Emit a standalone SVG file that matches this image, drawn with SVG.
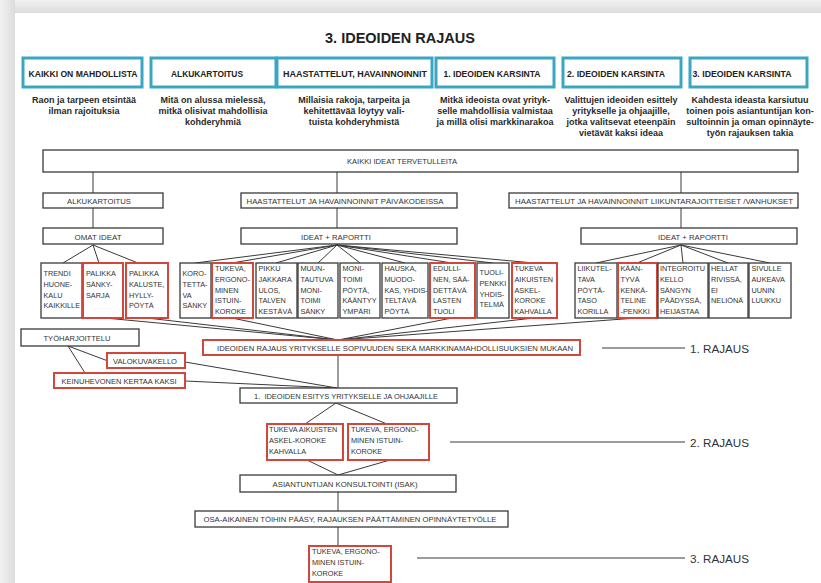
<svg xmlns="http://www.w3.org/2000/svg" width="821" height="583" viewBox="0 0 821 583">
<defs>
<linearGradient id="gt" x1="0" y1="0" x2="0" y2="1"><stop offset="0" stop-color="#f2f2f2"/><stop offset="1" stop-color="#dcdcdc"/></linearGradient>
<linearGradient id="gl" x1="0" y1="0" x2="1" y2="0"><stop offset="0" stop-color="#f2f2f2"/><stop offset="1" stop-color="#dcdcdc"/></linearGradient>
</defs>
<style>
.hb{fill:#fff;stroke:#3ba6c3;stroke-width:3}
.ht{font-family:"Liberation Sans",Arial,sans-serif;font-weight:bold;font-size:9px;fill:#222;text-anchor:middle}
.ds{font-family:"Liberation Sans",Arial,sans-serif;font-weight:bold;font-size:9px;fill:#2a2a2a;text-anchor:middle}
.bx{fill:#fff;stroke:#3a3a3a;stroke-width:1.3}
.rb{fill:#fff;stroke:#d2463b;stroke-width:2}
.lb{font-family:"Liberation Sans",Arial,sans-serif;font-size:7.6px;fill:#333;text-anchor:middle}
.it{font-family:"Liberation Sans",Arial,sans-serif;font-size:7.3px;fill:#333}
.cn{stroke:#3a3a3a;stroke-width:1;fill:none}
.rj{font-family:"Liberation Sans",Arial,sans-serif;font-size:11.7px;fill:#333}
.title{font-family:"Liberation Sans",Arial,sans-serif;font-weight:bold;font-size:15px;fill:#222;text-anchor:middle}
</style>
<rect x="0" y="0" width="821" height="583" fill="#e4e4e4"/>
<rect x="0" y="0" width="821" height="13" fill="url(#gt)"/>
<rect x="0" y="0" width="15" height="583" fill="url(#gl)"/>
<rect x="15" y="13" width="806" height="570" fill="#fff"/>

<text class="title" x="400" y="43" textLength="150" lengthAdjust="spacingAndGlyphs">3. IDEOIDEN RAJAUS</text>

<g id="h1"><rect class="hb" x="23" y="58" width="119" height="29"/><text class="ht" x="83" y="77" textLength="109" lengthAdjust="spacingAndGlyphs">KAIKKI ON MAHDOLLISTA</text>
<text class="ds" x="84" y="103">Raon ja tarpeen etsintää</text><text class="ds" x="84" y="114">ilman rajoituksia</text></g>
<g id="h2"><rect class="hb" x="151" y="58" width="125" height="29"/><text class="ht" x="207" y="77" textLength="72" lengthAdjust="spacingAndGlyphs">ALKUKARTOITUS</text>
<text class="ds" x="213" y="103">Mitä on alussa mielessä,</text><text class="ds" x="213" y="114">mitkä olisivat mahdollisia</text><text class="ds" x="213" y="125">kohderyhmiä</text></g>
<g id="h3"><rect class="hb" x="277" y="58" width="155" height="29"/><text class="ht" x="355" y="77" textLength="144" lengthAdjust="spacingAndGlyphs">HAASTATTELUT, HAVAINNOINNIT</text>
<text class="ds" x="354" y="103">Millaisia rakoja, tarpeita ja</text><text class="ds" x="354" y="114">kehitettävää löytyy vali-</text><text class="ds" x="354" y="125">tuista kohderyhmistä</text></g>
<g id="h4"><rect class="hb" x="436" y="58" width="118" height="29"/><text class="ht" x="492" y="77" textLength="97" lengthAdjust="spacingAndGlyphs">1. IDEOIDEN KARSINTA</text>
<text class="ds" x="495" y="103">Mitkä ideoista ovat yrityk-</text><text class="ds" x="495" y="114">selle mahdollisia valmistaa</text><text class="ds" x="495" y="125">ja millä olisi markkinarakoa</text></g>
<g id="h5"><rect class="hb" x="563" y="58" width="118" height="29"/><text class="ht" x="616" y="77" textLength="98" lengthAdjust="spacingAndGlyphs">2. IDEOIDEN KARSINTA</text>
<text class="ds" x="621" y="103">Valittujen ideoiden esittely</text><text class="ds" x="621" y="114">yritykselle ja ohjaajille,</text><text class="ds" x="621" y="125">jotka valitsevat eteenpäin</text><text class="ds" x="621" y="136">vietävät kaksi ideaa</text></g>
<g id="h6"><rect class="hb" x="690" y="58" width="117" height="29"/><text class="ht" x="742" y="77" textLength="99" lengthAdjust="spacingAndGlyphs">3. IDEOIDEN KARSINTA</text>
<text class="ds" x="750" y="103">Kahdesta ideasta karsiutuu</text><text class="ds" x="750" y="114">toinen pois asiantuntijan kon-</text><text class="ds" x="750" y="125">sultoinnin ja oman opinnäyte-</text><text class="ds" x="750" y="136">työn rajauksen takia</text></g>

<g id="connectors">
<line class="cn" x1="93" y1="172" x2="93" y2="193"/>
<line class="cn" x1="93" y1="208" x2="93" y2="228"/>
<line class="cn" x1="337" y1="172" x2="337" y2="193"/>
<line class="cn" x1="337" y1="208" x2="337" y2="228"/>
<line class="cn" x1="681" y1="172" x2="681" y2="193"/>
<line class="cn" x1="681" y1="208" x2="681" y2="228"/>
<path class="cn" d="M93,245L63,263M93,245L99,263M93,245L138,263"/>
<path class="cn" d="M337,245L195,263M337,245L232,263M337,245L276,263M337,245L318,263M337,245L360,263M337,245L405,263M337,245L452,263M337,245L493,263M337,245L534,263"/>
<path class="cn" d="M681,245L596,263M681,245L637,263M681,245L683,263M681,245L728,263M681,245L770,263"/>
<path class="cn" d="M105,318L338,340M147,318L338,340M232,318L338,340M452,318L338,340M534,318L338,340M637,318L338,340"/>
<line class="cn" x1="338" y1="355" x2="338" y2="388"/>
<path class="cn" d="M68,346L108,361M68,346L85,373"/>
<path class="cn" d="M185,362L337,388M185,381L337,388"/>
<path class="cn" d="M336,403L305,424M336,403L387,424"/>
<path class="cn" d="M307,460L338,475M390,460L338,475"/>
<line class="cn" x1="338" y1="492" x2="338" y2="511"/>
<line class="cn" x1="338" y1="527" x2="338" y2="546"/>
<line class="cn" x1="602" y1="348" x2="685" y2="348"/>
<line class="cn" x1="450" y1="442" x2="685" y2="442"/>
<line class="cn" x1="417" y1="558" x2="685" y2="558"/>
</g>

<g id="n-kaikki"><rect class="bx" x="43" y="150" width="755" height="22"/><text class="lb" x="402" y="164" textLength="110" lengthAdjust="spacingAndGlyphs">KAIKKI IDEAT TERVETULLEITA</text></g>
<g id="n-alku"><rect class="bx" x="43" y="193" width="120" height="15"/><text class="lb" x="99" y="203.5" textLength="64" lengthAdjust="spacingAndGlyphs">ALKUKARTOITUS</text></g>
<g id="n-omat"><rect class="bx" x="43" y="228" width="120" height="16"/><text class="lb" x="98" y="239.5" textLength="47" lengthAdjust="spacingAndGlyphs">OMAT IDEAT</text></g>
<g id="n-paiva"><rect class="bx" x="241" y="193" width="216" height="15"/><text class="lb" x="345" y="203.5" textLength="197" lengthAdjust="spacingAndGlyphs">HAASTATTELUT JA HAVAINNOINNIT PÄIVÄKODEISSA</text></g>
<g id="n-ideat1"><rect class="bx" x="241" y="228" width="216" height="16"/><text class="lb" x="336" y="239.5" textLength="70" lengthAdjust="spacingAndGlyphs">IDEAT + RAPORTTI</text></g>
<g id="n-liik"><rect class="bx" x="509" y="193" width="289" height="15"/><text class="lb" x="654" y="203.5" textLength="278" lengthAdjust="spacingAndGlyphs">HAASTATTELUT JA HAVAINNOINNIT LIIKUNTARAJOITTEISET /VANHUKSET</text></g>
<g id="n-ideat2"><rect class="bx" x="581" y="228" width="216" height="16"/><text class="lb" x="693" y="239.5" textLength="70" lengthAdjust="spacingAndGlyphs">IDEAT + RAPORTTI</text></g>

<g id="i1"><rect class="bx" x="41" y="263" width="41" height="55"/><text class="it" x="43.5" y="276"><tspan x="43.5">TRENDI</tspan><tspan x="43.5" dy="10.8">HUONE-</tspan><tspan x="43.5" dy="10.8">KALU</tspan><tspan x="43.5" dy="10.8">KAIKKILLE</tspan></text></g>
<g id="i2"><rect class="rb" x="83" y="263" width="40" height="55"/><text class="it" x="86" y="276"><tspan x="86">PALIKKA</tspan><tspan x="86" dy="10.8">SÄNKY-</tspan><tspan x="86" dy="10.8">SARJA</tspan></text></g>
<g id="i3"><rect class="rb" x="126" y="263" width="42" height="55"/><text class="it" x="129" y="276"><tspan x="129">PALIKKA</tspan><tspan x="129" dy="10.8">KALUSTE,</tspan><tspan x="129" dy="10.8">HYLLY-</tspan><tspan x="129" dy="10.8">PÖYTÄ</tspan></text></g>
<g id="i4"><rect class="bx" x="180" y="263" width="31" height="55"/><text class="it" x="182.5" y="276"><tspan x="182.5">KORO-</tspan><tspan x="182.5" dy="10.8">TETTA-</tspan><tspan x="182.5" dy="10.8">VA</tspan><tspan x="182.5" dy="10.8">SÄNKY</tspan></text></g>
<g id="i5"><rect class="rb" x="212" y="263" width="41" height="55"/><text class="it" x="215" y="271"><tspan x="215">TUKEVA,</tspan><tspan x="215" dy="10.8">ERGONO-</tspan><tspan x="215" dy="10.8">MINEN</tspan><tspan x="215" dy="10.8">ISTUIN-</tspan><tspan x="215" dy="10.8">KOROKE</tspan></text></g>
<g id="i6"><rect class="bx" x="256" y="263" width="41" height="55"/><text class="it" x="258.5" y="271"><tspan x="258.5">PIKKU</tspan><tspan x="258.5" dy="10.8">JAKKARA</tspan><tspan x="258.5" dy="10.8">ULOS,</tspan><tspan x="258.5" dy="10.8">TALVEN</tspan><tspan x="258.5" dy="10.8">KESTÄVÄ</tspan></text></g>
<g id="i7"><rect class="bx" x="298" y="263" width="40" height="55"/><text class="it" x="300.5" y="271"><tspan x="300.5">MUUN-</tspan><tspan x="300.5" dy="10.8">TAUTUVA</tspan><tspan x="300.5" dy="10.8">MONI-</tspan><tspan x="300.5" dy="10.8">TOIMI</tspan><tspan x="300.5" dy="10.8">SÄNKY</tspan></text></g>
<g id="i8"><rect class="bx" x="340" y="263" width="40" height="55"/><text class="it" x="342.5" y="271"><tspan x="342.5">MONI-</tspan><tspan x="342.5" dy="10.8">TOIMI</tspan><tspan x="342.5" dy="10.8">PÖYTÄ,</tspan><tspan x="342.5" dy="10.8">KÄÄNTYY</tspan><tspan x="342.5" dy="10.8">YMPÄRI</tspan></text></g>
<g id="i9"><rect class="bx" x="382" y="263" width="46" height="55"/><text class="it" x="384.5" y="271"><tspan x="384.5">HAUSKA,</tspan><tspan x="384.5" dy="10.8">MUODO-</tspan><tspan x="384.5" dy="10.8">KAS, YHDIS-</tspan><tspan x="384.5" dy="10.8">TELTÄVÄ</tspan><tspan x="384.5" dy="10.8">PÖYTÄ</tspan></text></g>
<g id="i10"><rect class="rb" x="430" y="263" width="45" height="55"/><text class="it" x="433" y="271"><tspan x="433">EDULLI-</tspan><tspan x="433" dy="10.8">NEN, SÄÄ-</tspan><tspan x="433" dy="10.8">DETTÄVÄ</tspan><tspan x="433" dy="10.8">LASTEN</tspan><tspan x="433" dy="10.8">TUOLI</tspan></text></g>
<g id="i11"><rect class="bx" x="477" y="263" width="32" height="55"/><text class="it" x="479.5" y="275"><tspan x="479.5">TUOLI-</tspan><tspan x="479.5" dy="10.8">PENKKI</tspan><tspan x="479.5" dy="10.8">YHDIS-</tspan><tspan x="479.5" dy="10.8">TELMÄ</tspan></text></g>
<g id="i12"><rect class="rb" x="512" y="263" width="45" height="55"/><text class="it" x="514.5" y="271"><tspan x="514.5">TUKEVA</tspan><tspan x="514.5" dy="10.8">AIKUISTEN</tspan><tspan x="514.5" dy="10.8">ASKEL-</tspan><tspan x="514.5" dy="10.8">KOROKE</tspan><tspan x="514.5" dy="10.8">KAHVALLA</tspan></text></g>
<g id="i13"><rect class="bx" x="575" y="263" width="42" height="55"/><text class="it" x="577.5" y="271"><tspan x="577.5">LIIKUTEL-</tspan><tspan x="577.5" dy="10.8">TAVA</tspan><tspan x="577.5" dy="10.8">PÖYTÄ-</tspan><tspan x="577.5" dy="10.8">TASO</tspan><tspan x="577.5" dy="10.8">KORILLA</tspan></text></g>
<g id="i14"><rect class="rb" x="618" y="263" width="39" height="55"/><text class="it" x="620.5" y="271"><tspan x="620.5">KÄÄN-</tspan><tspan x="620.5" dy="10.8">TYVÄ</tspan><tspan x="620.5" dy="10.8">KENKÄ-</tspan><tspan x="620.5" dy="10.8">TELINE</tspan><tspan x="620.5" dy="10.8">-PENKKI</tspan></text></g>
<g id="i15"><rect class="bx" x="658" y="263" width="50" height="55"/><text class="it" x="660" y="271"><tspan x="660">INTEGROITU</tspan><tspan x="660" dy="10.8">KELLO</tspan><tspan x="660" dy="10.8">SÄNGYN</tspan><tspan x="660" dy="10.8">PÄÄDYSSÄ,</tspan><tspan x="660" dy="10.8">HEIJASTAA</tspan></text></g>
<g id="i16"><rect class="bx" x="709" y="263" width="39" height="55"/><text class="it" x="711" y="271"><tspan x="711">HELLAT</tspan><tspan x="711" dy="10.8">RIVISSÄ,</tspan><tspan x="711" dy="10.8">EI</tspan><tspan x="711" dy="10.8">NELIÖNÄ</tspan></text></g>
<g id="i17"><rect class="bx" x="749" y="263" width="42" height="55"/><text class="it" x="751.5" y="271"><tspan x="751.5">SIVULLE</tspan><tspan x="751.5" dy="10.8">AUKEAVA</tspan><tspan x="751.5" dy="10.8">UUNIN</tspan><tspan x="751.5" dy="10.8">LUUKKU</tspan></text></g>

<g id="n-tyo"><rect class="bx" x="21" y="329" width="118" height="17"/><text class="lb" x="77" y="340.5" textLength="67" lengthAdjust="spacingAndGlyphs">TYÖHARJOITTELU</text></g>
<g id="n-valo"><rect class="rb" x="107" y="353" width="78" height="15"/><text class="lb" x="145" y="363.5" textLength="64" lengthAdjust="spacingAndGlyphs">VALOKUVAKELLO</text></g>
<g id="n-keinu"><rect class="rb" x="54" y="373" width="131" height="15"/><text class="lb" x="119" y="383.5" textLength="115" lengthAdjust="spacingAndGlyphs">KEINUHEVONEN KERTAA  KAKSI</text></g>
<g id="n-rajaus"><rect class="rb" x="203" y="340" width="377" height="15"/><text class="lb" x="395" y="350.5" textLength="356" lengthAdjust="spacingAndGlyphs">IDEOIDEN RAJAUS YRITYKSELLE SOPIVUUDEN SEKÄ MARKKINAMAHDOLLISUUKSIEN MUKAAN</text></g>
<g id="n-esitys"><rect class="bx" x="240" y="388" width="217" height="15"/><text class="lb" x="346" y="398.5" textLength="184" lengthAdjust="spacingAndGlyphs">1.&#160; IDEOIDEN ESITYS YRITYKSELLE JA OHJAAJILLE</text></g>
<g id="n-tuk2a"><rect class="rb" x="267" y="424" width="76" height="36"/><text class="it" x="269" y="432"><tspan x="269">TUKEVA AIKUISTEN</tspan><tspan x="269" dy="10.8">ASKEL-KOROKE</tspan><tspan x="269" dy="10.8">KAHVALLA</tspan></text></g>
<g id="n-tuk2b"><rect class="rb" x="348" y="424" width="81" height="36"/><text class="it" x="351" y="432"><tspan x="351">TUKEVA, ERGONO-</tspan><tspan x="351" dy="10.8">MINEN ISTUIN-</tspan><tspan x="351" dy="10.8">KOROKE</tspan></text></g>
<g id="n-asiant"><rect class="bx" x="240" y="475" width="216" height="17"/><text class="lb" x="345" y="486.5" textLength="145" lengthAdjust="spacingAndGlyphs">ASIANTUNTIJAN KONSULTOINTI (ISAK)</text></g>
<g id="n-osa"><rect class="bx" x="195" y="511" width="313" height="16"/><text class="lb" x="350" y="522" textLength="293" lengthAdjust="spacingAndGlyphs">OSA-AIKAINEN TÖIHIN PÄÄSY, RAJAUKSEN PÄÄTTÄMINEN OPINNÄYTETYÖLLE</text></g>
<g id="n-tuk3"><rect class="rb" x="309" y="546" width="82" height="36"/><text class="it" x="312" y="554"><tspan x="312">TUKEVA, ERGONO-</tspan><tspan x="312" dy="10.8">MINEN ISTUIN-</tspan><tspan x="312" dy="10.8">KOROKE</tspan></text></g>

<g id="rajaus-labels">
<text class="rj" x="690" y="352.5">1. RAJAUS</text>
<text class="rj" x="690" y="446.5">2. RAJAUS</text>
<text class="rj" x="690" y="562.5">3. RAJAUS</text>
</g>
</svg>
